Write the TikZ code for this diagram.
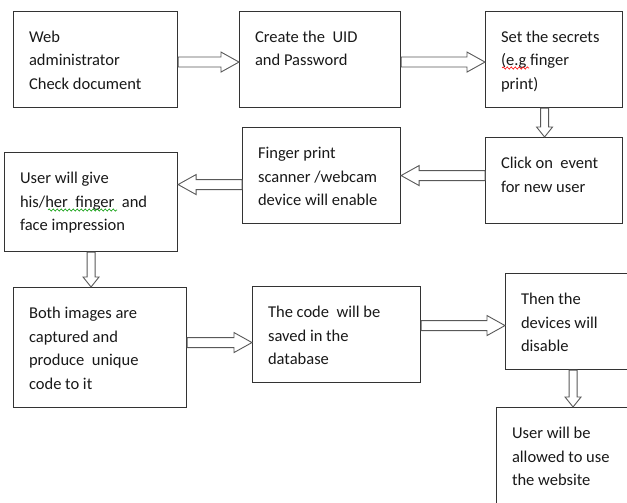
\documentclass[tikz,border=0pt]{standalone}
\usepackage{fontspec}
\setmainfont{Carlito}
\usetikzlibrary{calc,decorations.pathmorphing}
\newcommand{\steptext}[3]{\begin{minipage}[t][#2][t]{#1}\raggedright\strut#3\end{minipage}}
\newcommand{\harrow}[4]{\draw[blockarrow] let \p1=(#1), \p2=(#2) in
  (\x1,{\y1+(#3)+5}) -- ({\x2-18*(#4)},{\y1+(#3)+5}) -- ({\x2-18*(#4)},{\y1+(#3)+10}) --
  (\x2,{\y1+(#3)}) -- ({\x2-18*(#4)},{\y1+(#3)-10}) -- ({\x2-18*(#4)},{\y1+(#3)-5}) --
  (\x1,{\y1+(#3)-5}) -- cycle;}
\newcommand{\varrow}[3]{\draw[blockarrow] let \p1=(#1), \p2=(#2) in
  ({\x1+(#3)-4},\y1) -- ({\x1+(#3)-4},{\y2+10}) -- ({\x1+(#3)-8},{\y2+10}) --
  ({\x1+(#3)},\y2) -- ({\x1+(#3)+8},{\y2+10}) -- ({\x1+(#3)+4},{\y2+10}) --
  ({\x1+(#3)+4},\y1) -- cycle;}
\begin{document}
\begin{tikzpicture}[x=1pt,y=1pt,
  stepbox/.style={draw=black!80,line width=1.1pt,anchor=north west,inner xsep=15.5pt,inner ysep=14.5pt,
    text=black!90,font=\fontsize{16.5}{23.5}\selectfont},
  blockarrow/.style={draw=black!65,line width=0.9pt,fill=white,line join=miter},
  spellwave/.style={line width=0.6pt,decorate,decoration={snake,segment length=4pt,amplitude=1.1pt}}]
\useasboundingbox (0,0) rectangle (627,-503);
\clip (0,0) rectangle (627,-503);
\fill[white] (0,0) rectangle (627,-503);
\node[stepbox] (admin) at (13,-11) {\steptext{133pt}{67pt}{Web\\administrator\\Check document}};
\node[stepbox] (uid) at (239,-11) {\steptext{130pt}{67pt}{Create the~ UID\\and Password}};
\node[stepbox] (secret) at (485,-11) {\steptext{106pt}{67pt}{Set the secrets\\(e.g finger\\print)}};
\node[stepbox] (event) at (485,-137) {\steptext{106pt}{57pt}{Click on~ event\\for new user}};
\node[stepbox] (scanner) at (242,-127) {\steptext{127pt}{67pt}{Finger print\\scanner /webcam\\device will enable}};
\node[stepbox] (give) at (4,-152) {\steptext{142pt}{70pt}{User will give\\his/her~ finger~ and\\face impression}};
\node[stepbox] (capture) at (13,-287) {\steptext{142pt}{91pt}{Both images are\\captured and\\produce~ unique\\code to it}};
\node[stepbox] (saved) at (252,-286) {\steptext{137pt}{67pt}{The code~ will be\\saved in the\\database}};
\node[stepbox] (disable) at (505,-273) {\steptext{104pt}{67pt}{Then the\\devices will\\disable}};
\node[stepbox] (allowed) at (496,-407) {\steptext{109pt}{81pt}{User will be\\allowed to use\\the website}};
\draw[spellwave,red] ($(secret.north west)+(17,-57)$) -- ($(secret.north west)+(44,-57)$);
\draw[spellwave,green!60!black] ($(give.north west)+(44,-58)$) -- ($(give.north west)+(113,-58)$);
\harrow{admin.east}{uid.west}{-2.5}{1}
\harrow{uid.east}{secret.west}{-2.5}{1}
\varrow{secret.south}{event.north}{-9.5}
\harrow{event.west}{scanner.east}{5}{-1}
\harrow{scanner.west}{give.east}{-9}{-1}
\varrow{give.south}{capture.north}{0}
\harrow{capture.east}{saved.west}{5}{1}
\harrow{saved.east}{disable.west}{9}{1}
\varrow{disable.south}{allowed.north}{0}
\end{tikzpicture}
\end{document}
